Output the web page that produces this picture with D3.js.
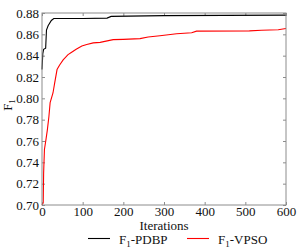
<!DOCTYPE html>
<html>
<head>
<meta charset="utf-8">
<script src="https://cdn.jsdelivr.net/npm/d3@7"></script>
<style>
  body { margin: 0; background: #fff; }
  svg text { font-family: "Liberation Serif", "Times New Roman", Times, "DejaVu Serif", serif; fill: #111; }
</style>
</head>
<body>
<div id="chart"></div>
<script>
// iterations and F1 values
const pdbpIter = [0, 2, 4, 9, 11, 15, 23, 29, 100, 160, 170, 300, 600];
const pdbpF1   = [0.827, 0.842, 0.846, 0.847, 0.864, 0.868, 0.873, 0.8748, 0.8748, 0.8752, 0.8768, 0.8775, 0.878];

const vpsoIter = [0, 3, 4, 6, 10, 13, 17, 20, 27, 31, 37, 43, 52, 64, 72, 84, 98, 110, 126, 143, 175, 200, 241, 261, 290, 331, 368, 380, 510, 540, 581, 600];
const vpsoF1   = [0.700, 0.702, 0.730, 0.752, 0.762, 0.770, 0.783, 0.796, 0.805, 0.814, 0.827, 0.831, 0.836, 0.841, 0.843, 0.846, 0.849, 0.8505, 0.852, 0.8525, 0.855, 0.8553, 0.856, 0.8575, 0.8587, 0.8605, 0.8615, 0.863, 0.8632, 0.8638, 0.8643, 0.8655];

const xTicks = [0, 100, 200, 300, 400, 500, 600];
const yTicks = [0.70, 0.72, 0.74, 0.76, 0.78, 0.80, 0.82, 0.84, 0.86, 0.88];

const series = [
  { name: "PDBP", color: "#000", iter: pdbpIter, f1: pdbpF1 },
  { name: "VPSO", color: "#ff0000", iter: vpsoIter, f1: vpsoF1 }
];

const width = 303, height = 249;
const margin = { top: 13, right: 17, bottom: 44, left: 42 };
const serif = '"Liberation Serif", "Times New Roman", Times, "DejaVu Serif", serif';
const fs = 13;

const svg = d3.select("#chart").append("svg")
  .attr("width", width)
  .attr("height", height)
  .attr("font-family", serif);

const x = d3.scaleLinear()
  .domain([0, 600])
  .range([margin.left, width - margin.right]);

const y = d3.scaleLinear()
  .domain([0.70, 0.88])
  .range([height - margin.bottom, margin.top]);

const frame = "#8c8c8c";

// axes, ticks pointing inward
const gx = svg.append("g")
  .attr("transform", `translate(0,${height - margin.bottom})`)
  .call(d3.axisBottom(x).tickValues(xTicks).tickSizeInner(-3).tickSizeOuter(0).tickPadding(2));
const gxTop = svg.append("g")
  .attr("transform", `translate(0,${margin.top})`)
  .call(d3.axisTop(x).tickValues(xTicks).tickSizeInner(-3).tickSizeOuter(0).tickFormat(""));
const gy = svg.append("g")
  .attr("transform", `translate(${margin.left},0)`)
  .call(d3.axisLeft(y).tickValues(yTicks).tickSizeInner(-3).tickSizeOuter(0).tickPadding(3).tickFormat(d3.format(".2f")));
const gyRight = svg.append("g")
  .attr("transform", `translate(${width - margin.right},0)`)
  .call(d3.axisRight(y).tickValues(yTicks).tickSizeInner(-3).tickSizeOuter(0).tickFormat(""));

[gx, gxTop, gy, gyRight].forEach(g => {
  g.attr("font-family", serif).attr("font-size", fs);
  g.select(".domain").remove();
  g.selectAll(".tick line").attr("stroke", frame);
  g.selectAll(".tick text").attr("fill", "#111");
});

// lines
const line = d3.line()
  .x(d => x(d[0]))
  .y(d => y(d[1]));

series.forEach(s => {
  svg.append("path")
    .datum(s.iter.map((it, i) => [it, s.f1[i]]))
    .attr("fill", "none")
    .attr("stroke", s.color)
    .attr("stroke-width", 1.1)
    .attr("d", line);
});

// frame
svg.append("rect")
  .attr("x", margin.left)
  .attr("y", margin.top)
  .attr("width", width - margin.left - margin.right)
  .attr("height", height - margin.top - margin.bottom)
  .attr("fill", "none")
  .attr("stroke", frame)
  .attr("stroke-width", 1);

// axis titles
svg.append("text")
  .attr("x", (margin.left + width - margin.right) / 2)
  .attr("y", 230)
  .attr("text-anchor", "middle")
  .attr("font-size", fs)
  .text("Iterations");

const yTitle = svg.append("text")
  .attr("transform", `translate(12,${(margin.top + height - margin.bottom) / 2 - 4}) rotate(-90)`)
  .attr("text-anchor", "middle")
  .attr("font-size", fs);
yTitle.append("tspan").text("F");
yTitle.append("tspan").attr("font-size", 9).attr("dy", 3).text("1");

// legend
const legendX = [88, 187];
series.forEach((s, i) => {
  const g = svg.append("g").attr("transform", `translate(${legendX[i]},238.5)`);
  g.append("line")
    .attr("x1", 0).attr("x2", 22)
    .attr("stroke", s.color)
    .attr("stroke-width", 1.1);
  const t = g.append("text")
    .attr("x", 31)
    .attr("y", 5)
    .attr("font-size", fs);
  t.append("tspan").text("F");
  t.append("tspan").attr("font-size", 9).attr("dy", 3).text("1");
  t.append("tspan").attr("dy", -3).text("-" + s.name);
});
</script>
</body>
</html>
